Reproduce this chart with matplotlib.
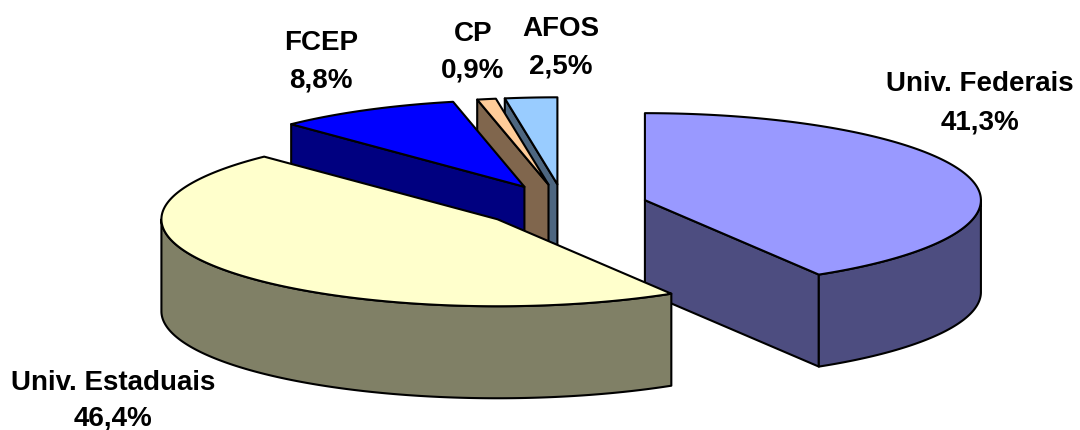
import numpy as np
import matplotlib
matplotlib.use('Agg')
import matplotlib.pyplot as plt
from matplotlib.patches import Polygon

plt.rcParams['font.family'] = ['Liberation Sans', 'DejaVu Sans']

nomes = ['Univ. Federais', 'Univ. Estaduais', 'FCEP', 'CP', 'AFOS']
valores = [41.3, 46.4, 8.8, 0.9, 2.5]
etiquetas = ['41,3%', '46,4%', '8,8%', '0,9%', '2,5%']
cor_topo = ['#9999FF', '#FFFFCC', '#0000FF', '#FFCC99', '#99CCFF']
cor_lado = ['#4D4D80', '#808066', '#000080', '#80664D', '#4D6680']

# geometria da pizza em pixels
CX, CY = 564.0, 206.0
A, B = 336.0, 87.0
ALTURA = 92.0
EXPLODE = 0.25
LW = 1.5

# posicao de cada rotulo (centro do texto, duas linhas)
pos_rotulos = [(980, 84, 122), (113, 383, 418), (321, 43, 80), (473, 34, 71), (561, 29, 66)]


def ponto(cx, cy, ang):
    # angulo em graus, a partir do topo, sentido horario
    r = np.radians(ang)
    return cx + A*np.sin(r), cy - B*np.cos(r)


def arco(cx, cy, a0, a1):
    angs = np.linspace(a0, a1, max(int(abs(a1-a0)*2), 2))
    xs, ys = ponto(cx, cy, angs)
    return np.column_stack([xs, ys])


def desenha_fatia(ax, ini, fim, topo, lado, z):
    meio = np.radians((ini+fim)/2)
    cx = CX + EXPLODE*A*np.sin(meio)
    cy = CY - EXPLODE*B*np.cos(meio)
    desce = np.array([0, ALTURA])
    c = np.array([cx, cy])
    estilo = dict(edgecolor='black', linewidth=LW, joinstyle='round', zorder=z)

    # paredes de corte viradas para o observador
    sen_i, cos_i = np.sin(np.radians(ini)), np.cos(np.radians(ini))
    sen_f, cos_f = np.sin(np.radians(fim)), np.cos(np.radians(fim))
    if cos_i > 0 and sen_i < 0:
        p = np.array(ponto(cx, cy, ini))
        ax.add_patch(Polygon([c, p, p+desce, c+desce], facecolor=lado, **estilo))
    if cos_f < 0 and sen_f > 0:
        p = np.array(ponto(cx, cy, fim))
        ax.add_patch(Polygon([c, p, p+desce, c+desce], facecolor=lado, **estilo))

    # parede externa, so a metade da frente
    a0, a1 = max(ini, 90), min(fim, 270)
    if a1 > a0:
        borda = arco(cx, cy, a0, a1)
        ax.add_patch(Polygon(np.vstack([borda, (borda+desce)[::-1]]), facecolor=lado, **estilo))

    # tampa da fatia
    ax.add_patch(Polygon(np.vstack([c, arco(cx, cy, ini, fim)]), facecolor=topo, **estilo))


fig = plt.figure(figsize=(10.8, 4.3), dpi=100)
ax = fig.add_axes([0, 0, 1, 1])
ax.set_xlim(0, 1080)
ax.set_ylim(430, 0)
ax.axis('off')

fim = np.cumsum(valores)/sum(valores)*360
ini = np.concatenate([[0], fim[:-1]])

# ordem de pintura: de tras para frente
for z, i in enumerate([4, 3, 2, 0, 1]):
    desenha_fatia(ax, ini[i], fim[i], cor_topo[i], cor_lado[i], z+1)

for nome, etq, (x, y1, y2) in zip(nomes, etiquetas, pos_rotulos):
    ax.text(x, y1, nome, ha='center', va='center', fontsize=20, fontweight='bold', color='black', zorder=10)
    ax.text(x, y2, etq, ha='center', va='center', fontsize=20, fontweight='bold', color='black', zorder=10)

fig.savefig('out.png', dpi=100)
